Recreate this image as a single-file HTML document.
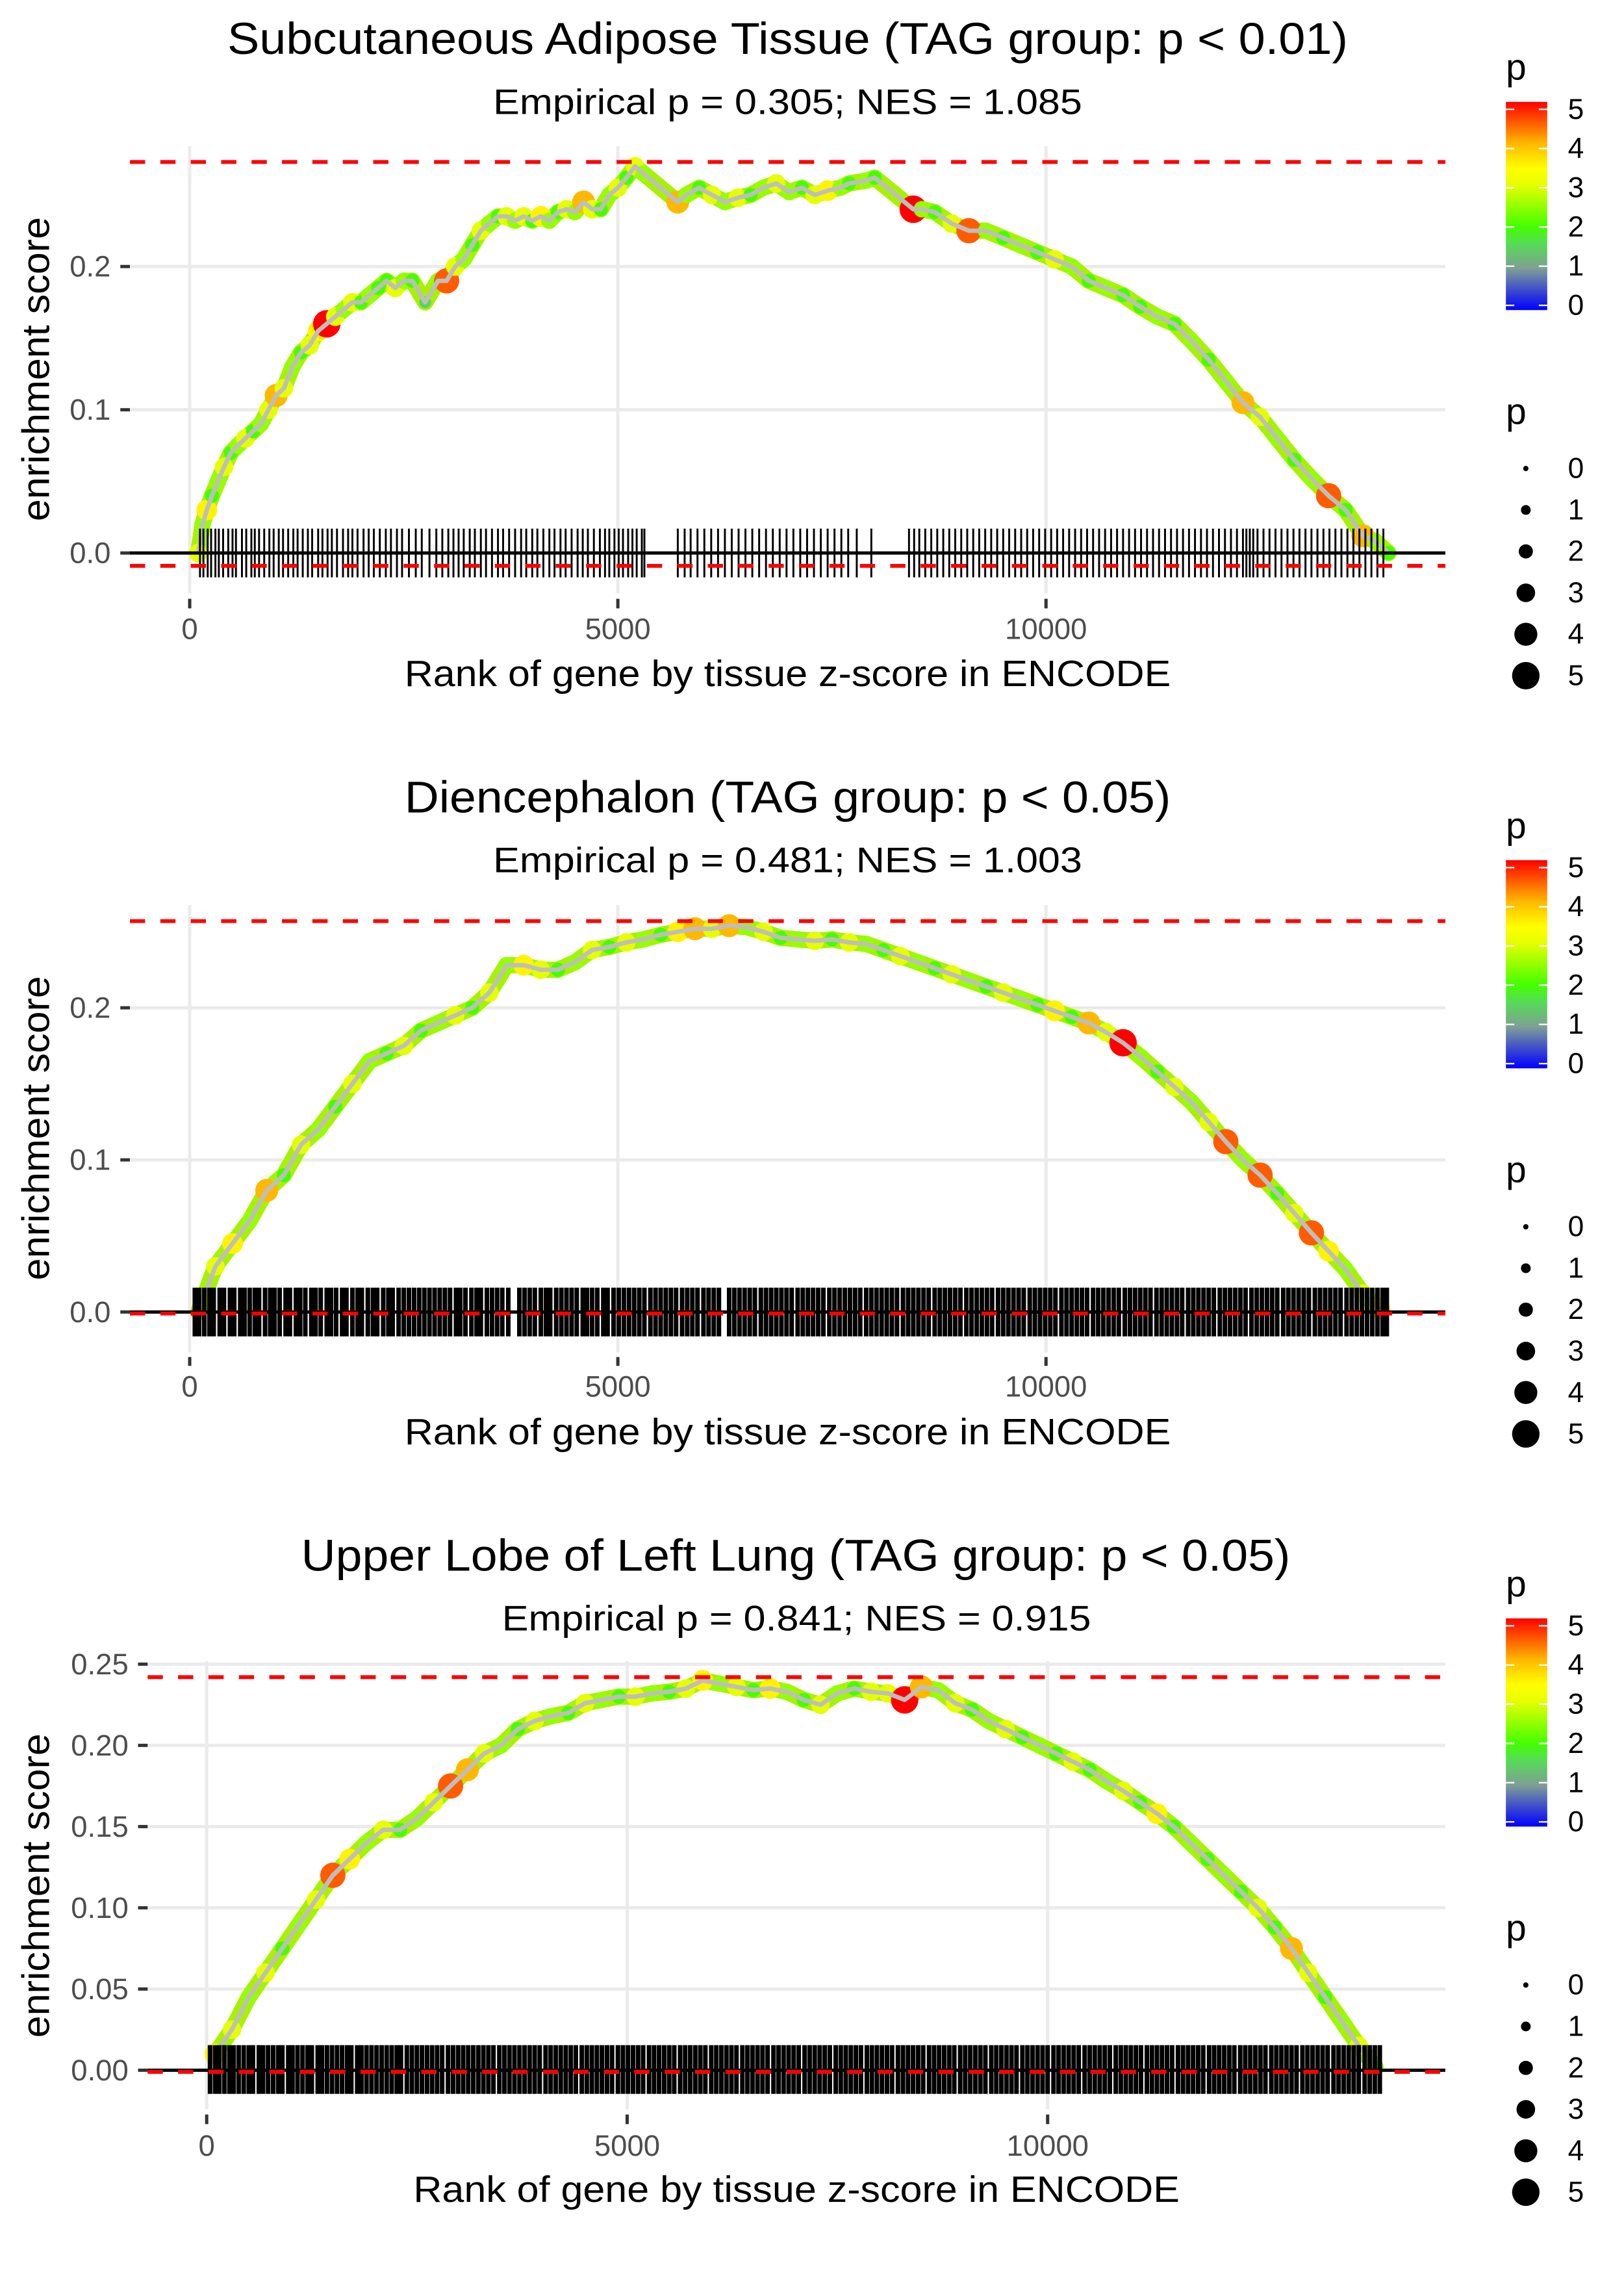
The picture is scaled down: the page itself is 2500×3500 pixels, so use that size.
<!DOCTYPE html>
<html>
<head>
<meta charset="utf-8">
<style>
html,body{margin:0;padding:0;background:#fff;}
svg{display:block;}
text{font-family:"Liberation Sans",sans-serif;}
</style>
</head>
<body>
<svg id="fig" xmlns="http://www.w3.org/2000/svg" width="2500" height="3500" viewBox="0 0 1100 1540">
<defs>
<linearGradient id="pgrad" x1="0" y1="1" x2="0" y2="0">
<stop offset="0" stop-color="#0000ff"/>
<stop offset="0.2" stop-color="#7f9f94"/>
<stop offset="0.32" stop-color="#55dd55"/>
<stop offset="0.4" stop-color="#44ff00"/>
<stop offset="0.6" stop-color="#e5ff00"/>
<stop offset="0.68" stop-color="#ffff00"/>
<stop offset="0.8" stop-color="#ffb800"/>
<stop offset="1" stop-color="#ff0000"/>
</linearGradient>
</defs>
<rect x="0" y="0" width="1100" height="1540" fill="#fff"/>

<text x="533.5" y="26.5" font-size="30" text-anchor="middle" dominant-baseline="central" textLength="759" lengthAdjust="spacingAndGlyphs">Subcutaneous Adipose Tissue (TAG group: p &lt; 0.01)</text>
<text x="533.5" y="69" font-size="24" text-anchor="middle" dominant-baseline="central" textLength="399" lengthAdjust="spacingAndGlyphs">Empirical p = 0.305; NES = 1.085</text>
<text x="533.5" y="540" font-size="30" text-anchor="middle" dominant-baseline="central" textLength="519" lengthAdjust="spacingAndGlyphs">Diencephalon (TAG group: p &lt; 0.05)</text>
<text x="533.5" y="582.5" font-size="24" text-anchor="middle" dominant-baseline="central" textLength="399" lengthAdjust="spacingAndGlyphs">Empirical p = 0.481; NES = 1.003</text>
<text x="539" y="1053.5" font-size="30" text-anchor="middle" dominant-baseline="central" textLength="670" lengthAdjust="spacingAndGlyphs">Upper Lobe of Left Lung (TAG group: p &lt; 0.05)</text>
<text x="539.5" y="1096" font-size="24" text-anchor="middle" dominant-baseline="central" textLength="399" lengthAdjust="spacingAndGlyphs">Empirical p = 0.841; NES = 0.915</text>

<text x="533.5" y="456.6" font-size="25" text-anchor="middle" dominant-baseline="central" textLength="519" lengthAdjust="spacingAndGlyphs">Rank of gene by tissue z-score in ENCODE</text>
<text x="533.5" y="970" font-size="25" text-anchor="middle" dominant-baseline="central" textLength="519" lengthAdjust="spacingAndGlyphs">Rank of gene by tissue z-score in ENCODE</text>
<text x="539.5" y="1483" font-size="25" text-anchor="middle" dominant-baseline="central" textLength="519" lengthAdjust="spacingAndGlyphs">Rank of gene by tissue z-score in ENCODE</text>
<text x="0" y="0" transform="translate(24.5,250) rotate(-90)" font-size="26" text-anchor="middle" dominant-baseline="central" textLength="206" lengthAdjust="spacingAndGlyphs">enrichment score</text>
<text x="0" y="0" transform="translate(24.5,764) rotate(-90)" font-size="26" text-anchor="middle" dominant-baseline="central" textLength="206" lengthAdjust="spacingAndGlyphs">enrichment score</text>
<text x="0" y="0" transform="translate(24.5,1277) rotate(-90)" font-size="26" text-anchor="middle" dominant-baseline="central" textLength="206" lengthAdjust="spacingAndGlyphs">enrichment score</text>

<g id="marks"></g>
<g id="legends"></g>
</svg>

<script>
// ---------------- Data ----------------
const xTicks = [0, 5000, 10000];
const xTickLabels = ["0", "5000", "10000"];
const yTicks12 = [0, 0.1, 0.2];
const yTickLabels12 = ["0.0", "0.1", "0.2"];
const yTicks3 = [0, 0.05, 0.10, 0.15, 0.20, 0.25];
const yTickLabels3 = ["0.00", "0.05", "0.10", "0.15", "0.20", "0.25"];
const redLines1 = [0.273, -0.009];
const redLines2 = [0.257, -0.001];
const redLines3 = [0.242, -0.001];
const legendValues = [0, 1, 2, 3, 4, 5];

// Panel 1: Subcutaneous Adipose Tissue
const ranks1 = [
 100,150,200,260,330,400,480,560,650,740,
 830,920,1010,1100,1200,1300,1400,1500,1600,1700,
 1800,1900,2000,2100,2200,2300,2400,2500,2600,2750,
 2900,3000,3100,3200,3300,3400,3500,3600,3700,3800,
 3900,4000,4100,4200,4300,4400,4500,4600,4700,4800,
 4900,5000,5100,5200,5300,5700,5800,5950,6100,6250,
 6400,6550,6700,6850,7000,7150,7300,7450,7600,7700,
 7900,8000,8450,8550,8700,8900,9100,9300,9500,9700,
 9900,10100,10300,10500,10700,10900,11100,11300,11500,11700,
 11900,12100,12300,12500,12700,12900,13100,13300,13500,13700,
 13850,14000];
const es1 = [
 0,0.02,0.03,0.04,0.05,0.06,0.07,0.075,0.08,0.085,
 0.09,0.10,0.11,0.115,0.13,0.14,0.145,0.155,0.16,0.165,
 0.17,0.175,0.175,0.18,0.185,0.19,0.185,0.19,0.19,0.175,
 0.19,0.19,0.20,0.205,0.215,0.225,0.23,0.235,0.235,0.232,
 0.235,0.232,0.235,0.232,0.238,0.24,0.238,0.245,0.24,0.24,
 0.25,0.255,0.262,0.27,0.265,0.245,0.25,0.255,0.25,0.245,
 0.248,0.25,0.255,0.258,0.252,0.255,0.25,0.253,0.255,0.258,
 0.26,0.262,0.24,0.24,0.238,0.23,0.225,0.225,0.22,0.215,
 0.21,0.205,0.20,0.19,0.185,0.18,0.172,0.165,0.16,0.148,
 0.135,0.12,0.105,0.095,0.08,0.065,0.052,0.04,0.03,0.012,
 0.008,0];
const p1 = [
 3,2.5,3.5,2,2.5,3,2,2.5,3,2,
 2.5,3,4,3,2.5,2,3,3.5,5,3,
 2.5,3,2,2.5,2,2,3,2.5,2,1.5,
 2.5,4.5,3,2.5,2,3,2.5,2,3,2.5,
 3,2,3.5,2.5,2,3,2.5,4,3,2,
 2.5,3,2,3,2.5,4,2.5,2,3,2.5,
 3,2,2.5,3,2.5,2,3,3.5,2.5,2,
 2.5,2,5,2.5,2,3,4.5,2.5,2,2.5,
 2,3,2.5,2,2.5,2,2,2.5,2,2.5,
 2,2.5,4,3,2.5,2,2.5,4.5,2,4,
 2.5,2];
const rug1 = [
 120,160,210,250,300,340,390,450,500,540,610,660,720,760,810,870,930,980,1040,1090,
 1150,1210,1260,1320,1380,1430,1500,1550,1610,1660,1720,1790,1850,1900,1960,2030,2090,2150,2220,2290,
 2350,2420,2480,2560,2640,2710,2800,2880,2950,3020,3080,3140,3200,3270,3330,3400,3460,3530,3600,3660,
 3730,3800,3870,3930,4000,4060,4130,4200,4260,4330,4390,4460,4530,4590,4650,4720,4790,4850,4900,4960,
 5010,5060,5120,5170,5220,5280,5310,5700,5780,5850,5930,6010,6090,6170,6250,6330,6410,6490,6570,6650,
 6730,6810,6890,6970,7050,7130,7210,7290,7370,7450,7530,7610,7690,7790,7960,8400,8460,8520,8590,8660,
 8730,8800,8870,8940,9010,9080,9150,9220,9290,9360,9430,9500,9570,9640,9710,9780,9850,9920,9990,10060,
 10130,10200,10270,10340,10410,10480,10550,10620,10690,10760,10830,10900,10970,11040,11110,11180,11250,11320,11390,11460,
 11530,11600,11670,11740,11810,11880,11950,12020,12090,12160,12230,12300,12340,12380,12420,12470,12540,12610,12680,12750,
 12820,12890,12960,13030,13100,13170,13240,13310,13380,13450,13520,13590,13660,13730,13800,13870,13940];

// Panel 2: Diencephalon
const ranks2 = [
 100,300,500,700,900,1100,1300,1500,1700,1900,
 2100,2300,2500,2700,2900,3100,3300,3500,3700,3900,
 4100,4300,4500,4700,4900,5100,5300,5500,5700,5900,
 6100,6300,6500,6700,6900,7100,7300,7500,7700,7900,
 8100,8300,8500,8700,8900,9100,9300,9500,9700,9900,
 10100,10300,10500,10700,10900,11100,11300,11500,11700,11900,
 12100,12300,12500,12700,12900,13100,13300,13500,13700,13900];
const es2 = [
 0,0.03,0.045,0.06,0.08,0.09,0.11,0.12,0.135,0.15,
 0.165,0.17,0.175,0.185,0.19,0.195,0.20,0.21,0.228,0.228,
 0.225,0.225,0.23,0.238,0.24,0.243,0.245,0.248,0.25,0.252,
 0.252,0.254,0.253,0.25,0.246,0.245,0.244,0.245,0.243,0.242,
 0.238,0.234,0.23,0.226,0.222,0.218,0.214,0.21,0.206,0.202,
 0.198,0.194,0.19,0.184,0.177,0.168,0.158,0.148,0.138,0.125,
 0.112,0.10,0.09,0.078,0.065,0.052,0.04,0.028,0.012,0.002];
const p2 = [
 2,3,3.5,2.5,4,2,3,2.5,2,3,
 2.5,2,3,2,2.5,3,2,3,2.5,3.5,
 3,2,2.5,3,2,3,2.5,2,3.5,4,
 3,4,2.5,3,2,2.5,3,2,3,2.5,
 2,3,2.5,2,3,2.5,2,3,2.5,2,
 3.5,2,4,3,5,2.5,2,3,2.5,3,
 4.5,2.5,4.5,2,3,4.5,3.5,2.5,3,3.5];
const rug2 = [
 60,110,170,230,280,350,400,470,520,590,640,700,760,810,880,940,990,1050,1120,1170,
 1240,1290,1350,1420,1470,1530,1600,1650,1710,1780,1830,1900,1960,2010,2080,2140,2190,2260,2320,2370,
 2440,2500,2560,2620,2680,2740,2800,2860,2920,2980,3040,3110,3160,3220,3290,3350,3400,3470,3530,3590,
 3650,3720,3850,3910,3970,4030,4100,4160,4210,4280,4340,4400,4460,4520,4590,4640,4700,4760,4830,4880,
 4950,5010,5070,5130,5190,5250,5310,5380,5440,5500,5560,5620,5680,5750,5810,5870,5930,6000,6060,6120,
 6180,6300,6360,6420,6480,6540,6600,6670,6730,6790,6850,6910,6970,7030,7100,7160,7220,7280,7340,7400,
 7470,7530,7590,7650,7710,7770,7830,7900,7960,8020,8080,8140,8200,8260,8330,8390,8450,8510,8570,8630,
 8700,8760,8820,8880,8940,9000,9070,9130,9190,9250,9310,9370,9440,9500,9560,9620,9680,9740,9810,9870,
 9930,9990,10050,10110,10180,10240,10300,10360,10420,10480,10550,10610,10670,10730,10790,10850,10920,10980,11040,11100,
 11160,11220,11290,11350,11410,11470,11530,11590,11660,11720,11780,11840,11900,11960,12030,12090,12150,12210,12270,12330,
 12400,12460,12520,12580,12640,12700,12770,12830,12890,12950,13010,13070,13140,13200,13260,13320,13380,13440,13510,13570,
 13630,13690,13750,13810,13870,13930,13980];

// Panel 3: Upper Lobe of Left Lung
const ranks3 = [
 100,300,500,700,900,1100,1300,1500,1700,1900,
 2100,2300,2500,2700,2900,3100,3300,3500,3700,3900,
 4100,4300,4500,4700,4900,5100,5300,5500,5700,5900,
 6100,6300,6500,6700,6900,7100,7300,7500,7700,7900,
 8100,8300,8500,8700,8900,9100,9300,9500,9700,9900,
 10100,10300,10500,10700,10900,11100,11300,11500,11700,11900,
 12100,12300,12500,12700,12900,13100,13300,13500,13700,13900];
const es3 = [
 0.01,0.025,0.045,0.06,0.075,0.09,0.105,0.12,0.13,0.14,
 0.148,0.148,0.155,0.165,0.175,0.185,0.195,0.20,0.21,0.215,
 0.218,0.22,0.226,0.228,0.23,0.23,0.232,0.233,0.235,0.24,
 0.238,0.236,0.234,0.235,0.233,0.228,0.225,0.232,0.235,0.233,
 0.232,0.228,0.236,0.234,0.226,0.222,0.215,0.21,0.205,0.20,
 0.195,0.19,0.185,0.178,0.172,0.165,0.158,0.15,0.14,0.13,
 0.12,0.11,0.10,0.088,0.075,0.06,0.045,0.03,0.015,0.002];
const p3 = [
 3.5,3,2.5,3,2,2.5,3,4.5,3.5,2.5,
 3,2,2.5,3,4.5,4,3,2.5,2,3,
 2.5,2,3,2.5,2,3,2.5,2,3,3.5,
 2.5,3,2,3.5,2.5,2,3,2.5,2,3,
 3,5,4,2.5,3,2,2.5,3,2,2.5,
 2,3,2,2.5,3,2,3.5,2,2.5,2,
 2.5,2,3,2,4,3,2,2.5,3,2];
const rug3 = [
 40,100,150,210,270,320,380,440,500,550,620,670,730,790,850,900,970,1020,1080,1140,
 1200,1250,1320,1370,1430,1490,1550,1610,1670,1720,1790,1840,1900,1960,2020,2080,2140,2200,2260,2310,
 2380,2440,2500,2560,2620,2680,2740,2800,2870,2930,2990,3050,3110,3170,3230,3290,3350,3410,3480,3540,
 3600,3660,3720,3780,3840,3900,3960,4030,4090,4150,4210,4270,4330,4390,4460,4520,4580,4640,4700,4760,
 4820,4890,4950,5010,5070,5130,5190,5260,5320,5380,5440,5500,5560,5630,5690,5750,5810,5870,5930,6000,
 6060,6120,6180,6240,6300,6370,6430,6490,6550,6610,6670,6740,6800,6860,6920,6980,7040,7110,7170,7230,
 7290,7350,7410,7480,7540,7600,7660,7720,7780,7850,7910,7970,8030,8090,8150,8220,8280,8340,8400,8460,
 8520,8590,8650,8710,8770,8830,8890,8960,9020,9080,9140,9200,9260,9330,9390,9450,9510,9570,9630,9700,
 9760,9820,9880,9940,10000,10070,10130,10190,10250,10310,10370,10440,10500,10560,10620,10680,10740,10810,10870,10930,
 10990,11050,11110,11180,11240,11300,11360,11420,11480,11550,11610,11670,11730,11790,11850,11920,11980,12040,12100,12160,
 12220,12290,12350,12410,12470,12530,12590,12660,12720,12780,12840,12900,12960,13030,13090,13150,13210,13270,13330,13400,
 13460,13520,13580,13640,13700,13770,13830,13890,13950];

// ---------------- Rendering ----------------
const NS = "http://www.w3.org/2000/svg";
const marks = document.getElementById("marks");
const legends = document.getElementById("legends");

function mk(tag, attrs, parent) {
  const el = document.createElementNS(NS, tag);
  for (const k in attrs) el.setAttribute(k, attrs[k]);
  parent.appendChild(el);
  return el;
}

const colorStops = [[0,[0,0,255]],[1,[127,159,148]],[1.6,[85,221,85]],[2,[68,255,0]],[3,[229,255,0]],[3.4,[255,255,0]],[4,[255,184,0]],[5,[255,0,0]]];
function pColor(v) {
  v = Math.max(0, Math.min(5, v));
  for (let i = 0; i < colorStops.length - 1; i++) {
    const a = colorStops[i], b = colorStops[i+1];
    if (v <= b[0]) {
      const t = (v - a[0]) / (b[0] - a[0]);
      const c = a[1].map((x, j) => Math.round(x + (b[1][j] - x) * t));
      return "rgb(" + c.join(",") + ")";
    }
  }
  return "rgb(255,0,0)";
}
function pRadius(v) { return 1.8 + 1.5 * v; }

const layouts = [
  {left:88, right:979, top:99, bottom:402, x0:128.5, xk:0.058, y0:374.5, yk:970, rugTop:358, rugBot:391, rugW:1.3, labelX:75, xLabelY:426, xMark:[405.5,412], off:0},
  {left:88, right:979, top:613, bottom:916, x0:128.5, xk:0.058, y0:888.5, yk:1030, rugTop:872, rugBot:905, rugW:3.1, labelX:75, xLabelY:939, xMark:[919,925], off:513.5},
  {left:100, right:979, top:1125, bottom:1428.5, x0:140, xk:0.05696, y0:1402, yk:1100, rugTop:1385, rugBot:1418, rugW:3.1, labelX:87, xLabelY:1453, xMark:[1432,1438.5], off:1027}
];

function drawPanel(n, L, ranks, es, pv, rug, yTicks, yLabels, reds) {
  const g = mk("g", {}, marks);
  
  
  const X = r => L.x0 + r * L.xk;
  const Y = v => L.y0 - v * L.yk;

  yTicks.forEach((v, i) => {
    const gl = mk("line", {x1:L.left, x2:L.right, y1:Y(v), y2:Y(v), stroke:"#ebebeb", "stroke-width":2.2}, g);
    
    
    const tm = mk("line", {x1:L.left-6.5, x2:L.left, y1:Y(v), y2:Y(v), stroke:"#333", "stroke-width":2.2}, g);
    
    
    const tl = mk("text", {x:L.labelX, y:Y(v), "font-size":20, fill:"#4d4d4d", "text-anchor":"end", "dominant-baseline":"central"}, g);
    tl.textContent = yLabels[i];
    
    
  });
  xTicks.forEach((v, i) => {
    const gl = mk("line", {x1:X(v), x2:X(v), y1:L.top, y2:L.bottom, stroke:"#ebebeb", "stroke-width":2.2}, g);
    
    
    const tm = mk("line", {x1:X(v), x2:X(v), y1:L.xMark[0], y2:L.xMark[1], stroke:"#333", "stroke-width":2.2}, g);
    
    
    const tl = mk("text", {x:X(v), y:L.xLabelY, "font-size":20, fill:"#4d4d4d", "text-anchor":"middle", "dominant-baseline":"central"}, g);
    tl.textContent = xTickLabels[i];
    
    
  });

  const pts = ranks.map((r, i) => X(r).toFixed(2) + "," + Y(es[i]).toFixed(2)).join(" ");
  const band = mk("polyline", {points:pts, fill:"none", stroke:"#a6f200", "stroke-width":11, "stroke-linejoin":"round", "stroke-linecap":"round"}, g);
  
  
  ranks.forEach((r, i) => {
    const c = mk("circle", {cx:X(r), cy:Y(es[i]), r:pRadius(pv[i]), fill:pColor(pv[i])}, g);
    
    
  });
  const pl = mk("polyline", {points:pts, fill:"none", stroke:"#bebebe", "stroke-width":3, "stroke-linejoin":"round"}, g);
  
  
  const zl = mk("line", {x1:L.left, x2:L.right, y1:Y(0), y2:Y(0), stroke:"#000", "stroke-width":2.2}, g);
  
  
  rug.forEach(r => {
    const rl = mk("line", {x1:X(r), x2:X(r), y1:L.rugTop, y2:L.rugBot, stroke:"#000", "stroke-width":L.rugW}, g);
    
    
  });
  reds.forEach(v => {
    const rd = mk("line", {x1:L.left, x2:L.right, y1:Y(v), y2:Y(v), stroke:"#ff0000", "stroke-width":2.6, "stroke-dasharray":"10.3 10.3"}, g);
    
    
  });

  const o = L.off;
  const lg = mk("g", {}, legends);
  
  
  const t1 = mk("text", {x:1020, y:54+o, "font-size":25}, lg);
  t1.textContent = "p";
  
  
  const bar = mk("rect", {x:1020, y:69+o, width:28, height:141, fill:"url(#pgrad)"}, lg);
  
  
  legendValues.forEach(v => {
    const yy = 206.8 - v * 26.55 + o;
    const a = mk("line", {x1:1020, x2:1025.7, y1:yy, y2:yy, stroke:"#fff", "stroke-width":1}, lg);
    
    
    const b = mk("line", {x1:1042.3, x2:1048, y1:yy, y2:yy, stroke:"#fff", "stroke-width":1}, lg);
    
    
    const t = mk("text", {x:1062, y:yy, "font-size":19.5, "dominant-baseline":"central"}, lg);
    t.textContent = String(v);
    
    
  });
  const t2 = mk("text", {x:1020, y:287+o, "font-size":25}, lg);
  t2.textContent = "p";
  
  
  legendValues.forEach((v, i) => {
    const yy = 317.3 + 28.06 * i + o;
    const c = mk("circle", {cx:1033.5, cy:yy, r:pRadius(v), fill:"#000"}, lg);
    
    
    const t = mk("text", {x:1062, y:yy, "font-size":19.5, "dominant-baseline":"central"}, lg);
    t.textContent = String(v);
    
    
  });
}

drawPanel(1, layouts[0], ranks1, es1, p1, rug1, yTicks12, yTickLabels12, redLines1);
drawPanel(2, layouts[1], ranks2, es2, p2, rug2, yTicks12, yTickLabels12, redLines2);
drawPanel(3, layouts[2], ranks3, es3, p3, rug3, yTicks3, yTickLabels3, redLines3);
</script>
</body>
</html>
